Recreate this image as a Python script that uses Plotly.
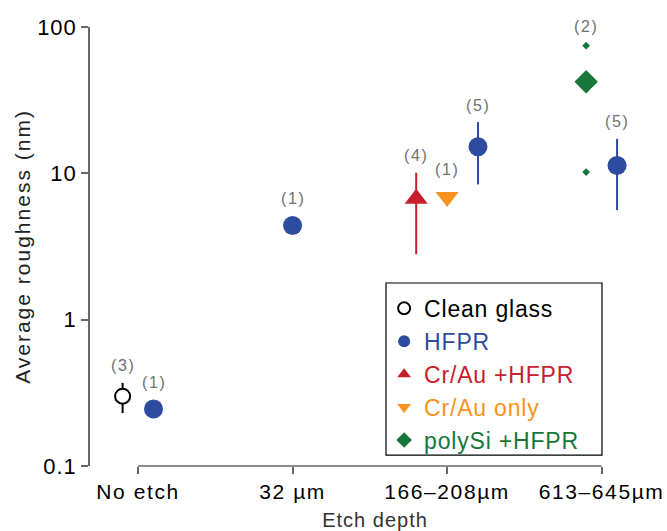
import math
import plotly.graph_objects as go

# ---------------- data ----------------
categories = ["No etch", "32 µm", "166–208µm", "613–645µm"]

clean_cat = ["No etch"]
clean_val = [0.30]
clean_hi = [0.37]
clean_lo = [0.23]
clean_n = [3]

hfpr_cat = ["No etch", "32 µm", "166–208µm", "613–645µm"]
hfpr_val = [0.245, 4.4, 15.2, 11.3]
hfpr_hi = [0.245, 4.4, 22.4, 17.2]
hfpr_lo = [0.245, 4.4, 8.4, 5.6]
hfpr_n = [1, 1, 5, 5]

crau_hfpr_cat = ["166–208µm"]
crau_hfpr_val = [6.7]
crau_hfpr_hi = [10.1]
crau_hfpr_lo = [2.8]
crau_hfpr_n = [4]

crau_only_cat = ["166–208µm"]
crau_only_val = [6.9]
crau_only_n = [1]

polysi_cat = ["613–645µm"]
polysi_val = [42.3]
polysi_hi = [74.5]
polysi_lo = [10.2]
polysi_n = [2]

y_tickvals = [0.1, 1, 10, 100]
y_ticktext = ["0.1", "1", "10", "100"]

# ---------------- styles ----------------
FONT = "Liberation Sans"
BLUE = "#2E4C9F"
RED = "#C8202A"
ORANGE = "#F7931E"
GREEN = "#17773B"
GRAY = "#707070"
AXIS = "#666666"

offsets = {"clean": -0.1, "hfpr": {"No etch": 0.1, "32 µm": 0.0, "166–208µm": 0.2, "613–645µm": 0.1},
           "crau_hfpr": -0.2, "crau_only": 0.0, "polysi": -0.1}


def xpos(cats, off):
    out = []
    for c in cats:
        o = off[c] if isinstance(off, dict) else off
        out.append(categories.index(c) + o)
    return out


def errs(val, hi, lo):
    return [h - v for v, h in zip(val, hi)], [v - l for v, l in zip(val, lo)]


def styled(text, color=None, ls=None):
    st = []
    if color:
        st.append(f"color:{color}")
    if ls is not None:
        st.append(f"letter-spacing:{ls}px")
    return f"<span style='{';'.join(st)}'>{text}</span>"


fig = go.Figure()

x_clean = xpos(clean_cat, offsets["clean"])
ep, em = errs(clean_val, clean_hi, clean_lo)
fig.add_trace(go.Scatter(
    x=x_clean, y=clean_val, mode="markers", name=styled("Clean glass", None, 0.8),
    marker=dict(symbol="circle", size=15, color="white", line=dict(color="black", width=2)),
    error_y=dict(type="data", array=ep, arrayminus=em, color="black", thickness=2, width=0),
))

x_hfpr = xpos(hfpr_cat, offsets["hfpr"])
ep, em = errs(hfpr_val, hfpr_hi, hfpr_lo)
fig.add_trace(go.Scatter(
    x=x_hfpr, y=hfpr_val, mode="markers", name=styled("HFPR", BLUE, 0.8),
    marker=dict(symbol="circle", size=19, color=BLUE),
    error_y=dict(type="data", array=ep, arrayminus=em, color=BLUE, thickness=2, width=0),
))

x_crh = xpos(crau_hfpr_cat, offsets["crau_hfpr"])
ep, em = errs(crau_hfpr_val, crau_hfpr_hi, crau_hfpr_lo)
fig.add_trace(go.Scatter(
    x=x_crh, y=crau_hfpr_val, mode="markers", name=styled("Cr/Au +HFPR", RED, 0.8),
    marker=dict(symbol="triangle-up", size=20, color=RED),
    error_y=dict(type="data", array=ep, arrayminus=em, color=RED, thickness=2, width=0),
))

x_cro = xpos(crau_only_cat, offsets["crau_only"])
fig.add_trace(go.Scatter(
    x=x_cro, y=crau_only_val, mode="markers", name=styled("Cr/Au only", ORANGE, 0.8),
    marker=dict(symbol="triangle-down", size=20, color=ORANGE),
))

x_ps = xpos(polysi_cat, offsets["polysi"])
fig.add_trace(go.Scatter(
    x=x_ps, y=polysi_val, mode="markers", name=styled("polySi +HFPR", GREEN, 0.8),
    marker=dict(symbol="diamond", size=18, color=GREEN),
))
fig.add_trace(go.Scatter(
    x=x_ps + x_ps, y=polysi_hi + polysi_lo, mode="markers", showlegend=False,
    marker=dict(symbol="diamond", size=6, color=GREEN),
))


# sample-count annotations (log axis -> annotation y in log10 units)
def add_counts(xs, vals, his, ns, shift_err=17, shift_none=27):
    for x, v, h, n in zip(xs, vals, his, ns):
        shift = shift_err if h > v else shift_none
        fig.add_annotation(x=x, y=math.log10(h), yref="y", text=styled(f"({n})", None, 1.6),
                           showarrow=False, yanchor="middle", yshift=shift,
                           font=dict(family=FONT, size=16, color=GRAY))


add_counts(x_clean, clean_val, clean_hi, clean_n)
add_counts(x_hfpr, hfpr_val, hfpr_hi, hfpr_n)
add_counts(x_crh, crau_hfpr_val, crau_hfpr_hi, crau_hfpr_n)
add_counts(x_cro, crau_only_val, crau_only_val, crau_only_n)
add_counts(x_ps, polysi_val, polysi_hi, polysi_n, shift_err=19)

# detached x-axis baseline spanning the categories
fig.add_shape(type="line", xref="x", yref="paper", x0=0, x1=len(categories) - 1, y0=0, y1=0,
              line=dict(color=AXIS, width=1.5))

# legend frame
fig.add_shape(type="rect", xref="paper", yref="paper", x0=0.5193, x1=0.8982, y0=0.025, y1=0.4169,
              line=dict(color="black", width=1.2), fillcolor="rgba(0,0,0,0)")

fig.update_layout(
    width=667, height=531, autosize=False,
    margin=dict(l=90, r=7, t=27, b=65, autoexpand=False),
    plot_bgcolor="white", paper_bgcolor="white",
    font=dict(family=FONT, color="black"),
    showlegend=True,
    legend=dict(x=0.516, y=0.408, xanchor="left", yanchor="top",
                font=dict(family=FONT, size=23, color="black"),
                itemsizing="constant", bgcolor="rgba(0,0,0,0)", borderwidth=0),
    xaxis=dict(range=[-0.311, 3.378], tickvals=list(range(len(categories))),
               ticktext=[styled(c, None, 1.6) for c in categories],
               ticks="outside", ticklen=7, tickwidth=1.5, tickcolor=AXIS,
               showline=False, showgrid=False, zeroline=False, automargin=False,
               tickfont=dict(family=FONT, size=21, color="black"),
               title=dict(text=styled("Etch depth", None, 1), font=dict(family=FONT, size=20, color="#333333"),
                          standoff=10)),
    yaxis=dict(type="log", range=[-1, 2], tickvals=y_tickvals, ticktext=[styled(t, None, 1) for t in y_ticktext],
               ticks="outside", ticklen=7, tickwidth=1.5, tickcolor=AXIS,
               showline=True, linecolor=AXIS, linewidth=1.5, showgrid=False, zeroline=False, automargin=False,
               tickfont=dict(family=FONT, size=22, color="black"),
               title=dict(text=styled("Average roughness (nm)", None, 2),
                          font=dict(family=FONT, size=21, color="#222222"), standoff=1)),
)

fig.write_html("out.html", config={"displayModeBar": False},
               post_script="document.body.style.margin='0';")
